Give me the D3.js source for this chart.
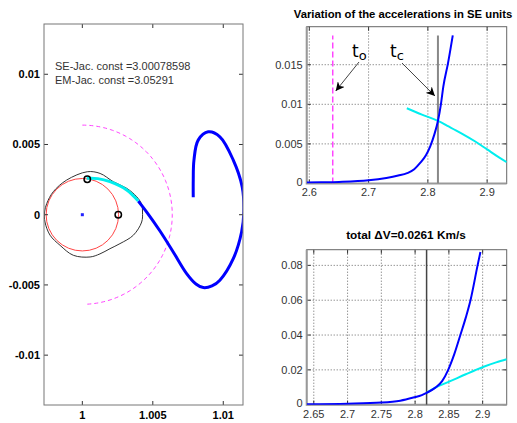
<!DOCTYPE html>
<html>
<head>
<meta charset="utf-8">
<script src="https://cdn.jsdelivr.net/npm/d3@7"></script>
<style>
  body { margin: 0; background: #fff; }
  svg { font-family: "Liberation Sans", Arial, sans-serif; }
  .grid line { stroke: #666; stroke-width: 1; stroke-dasharray: 1,2; }
  .tick-lbl { font-size: 11px; fill: #333; }
  .title { font-size: 11.8px; font-weight: bold; fill: #000; text-anchor: middle; }
</style>
</head>
<body>
<script>
// ---- left panel: trajectory in SE rotating frame ----
const earth = [1, 0];
const moonOrbitR = 0.00257;
const dashedArcR = 0.00638;
const markers = [[1.00035, 0.00252], [1.00255, 0]];
const zvcContour = [
  [1.00035, 0.00306], [1.00126, 0.00294], [1.00220, 0.00235], [1.00315, 0.00188],
  [1.00386, 0.00128], [1.00420, 0.00076], [1.00427, 0.00019], [1.00421, -0.00052],
  [1.00362, -0.00146], [1.00267, -0.00206], [1.00196, -0.00242], [1.00125, -0.00279],
  [1.00055, -0.00301], [0.99936, -0.00289], [0.99842, -0.00218], [0.99771, -0.00146],
  [0.99735, -0.00052], [0.99732, 0.00019], [0.99748, 0.00081], [0.99794, 0.00164],
  [0.99889, 0.00247]
];
const trajCyan = [
  [1.00031, 0.00259], [1.00110, 0.00257], [1.00196, 0.00235], [1.00315, 0.00176], [1.00397, 0.00097]
];
const trajBlue = [
  [1.00397, 0.00097], [1.00457, 0.00019], [1.00551, -0.00116], [1.00645, -0.00265],
  [1.00740, -0.00419], [1.00806, -0.00493], [1.00858, -0.00519], [1.00920, -0.00507],
  [1.00976, -0.00466], [1.01071, -0.00313], [1.01130, -0.00123], [1.01146, 0.00019],
  [1.01134, 0.00199], [1.01071, 0.00389], [1.00976, 0.00555], [1.00893, 0.00590],
  [1.00822, 0.00531], [1.00792, 0.00389], [1.00787, 0.00247], [1.00787, 0.00124]
];
const leftXTicks = [1, 1.005, 1.01];
const leftYTicks = [-0.01, -0.005, 0, 0.005, 0.01];
const jacobiLabels = ["SE-Jac. const =3.00078598", "EM-Jac. const =3.05291"];

// ---- top right: accelerations ----
const t0 = 2.6395;
const tc = 2.817;
const accBlue = [
  [2.5956, 0.00012], [2.62, 0.00015], [2.65, 0.0002], [2.7, 0.0004], [2.73, 0.0007],
  [2.75, 0.0010], [2.765, 0.0013], [2.777, 0.0018], [2.787, 0.0026], [2.797, 0.0036],
  [2.804, 0.0047], [2.811, 0.0062], [2.817, 0.0079], [2.822, 0.0100], [2.826, 0.0122],
  [2.834, 0.0152], [2.842, 0.0187]
];
const accCyan = [
  [2.7645, 0.0095], [2.79, 0.0087], [2.817, 0.0079], [2.835, 0.0072], [2.855, 0.0064],
  [2.88, 0.0053], [2.9, 0.0043], [2.92, 0.0033], [2.933, 0.0027]
];
const accXTicks = [2.6, 2.7, 2.8, 2.9];
const accYTicks = [0, 0.005, 0.01, 0.015];

// ---- bottom right: delta V ----
const dvBlue = [
  [2.6395, 0.0003], [2.7, 0.0006], [2.75, 0.0012], [2.778, 0.0023], [2.7975, 0.0041],
  [2.81, 0.0055], [2.817, 0.0068], [2.83, 0.0098], [2.84, 0.0135], [2.849, 0.020],
  [2.858, 0.029], [2.867, 0.040], [2.875, 0.050], [2.882, 0.060], [2.8925, 0.080],
  [2.8967, 0.0877]
];
const dvCyan = [
  [2.817, 0.0068], [2.83, 0.0098], [2.852, 0.0135], [2.875, 0.0175], [2.9015, 0.0218],
  [2.92, 0.0243], [2.9356, 0.0261]
];
const dvXTicks = [2.65, 2.7, 2.75, 2.8, 2.85, 2.9];
const dvYTicks = [0, 0.02, 0.04, 0.06, 0.08];

const W = 517, H = 423;
const svg = d3.select("body").append("svg").attr("width", W).attr("height", H);

const defs = svg.append("defs");
defs.append("marker")
  .attr("id", "arrow")
  .attr("viewBox", "0 -5 10 10")
  .attr("refX", 10)
  .attr("markerWidth", 9)
  .attr("markerHeight", 9)
  .attr("markerUnits", "userSpaceOnUse")
  .attr("orient", "auto")
  .append("path")
  .attr("d", "M0,-5L10,0L0,5L3,0Z")
  .attr("fill", "#000");

function clipFor(id, x, y) {
  defs.append("clipPath").attr("id", id)
    .append("rect")
    .attr("x", x.range()[0]).attr("y", y.range()[1])
    .attr("width", x.range()[1] - x.range()[0])
    .attr("height", y.range()[0] - y.range()[1]);
  return svg.append("g").attr("clip-path", `url(#${id})`);
}

const fmt = (d) => String(+d.toFixed(6));

// axis frame with inner ticks on all sides
function frame(x, y, xt, yt, opt) {
  const [x0, x1] = x.range();
  const [y0, y1] = y.range();
  const g = svg.append("g");
  if (opt.grid) {
    const gg = g.append("g").attr("class", "grid");
    gg.selectAll(".gx").data(xt).join("line")
      .attr("x1", (d) => x(d)).attr("x2", (d) => x(d)).attr("y1", y0).attr("y2", y1);
    gg.selectAll(".gy").data(yt.filter((d) => d !== 0)).join("line")
      .attr("x1", x0).attr("x2", x1).attr("y1", (d) => y(d)).attr("y2", (d) => y(d));
  }
  const tl = 4;
  g.selectAll(".tx").data(xt).join("path")
    .attr("d", (d) => `M${x(d)},${y0}v${-tl}M${x(d)},${y1}v${tl}`)
    .attr("stroke", "#333");
  g.selectAll(".ty").data(yt).join("path")
    .attr("d", (d) => `M${x0},${y(d)}h${tl}M${x1},${y(d)}h${-tl}`)
    .attr("stroke", "#333");
  g.append("rect")
    .attr("x", x0).attr("y", y1).attr("width", x1 - x0).attr("height", y0 - y1)
    .attr("fill", "none").attr("stroke", opt.boxColor || "#666");
  if (opt.thickLB) {
    g.append("path")
      .attr("d", `M${x0},${y1}V${y0}H${x1}`)
      .attr("fill", "none").attr("stroke", "#999").attr("stroke-width", 2);
  }
  g.selectAll(".lx").data(xt).join("text")
    .attr("class", "tick-lbl")
    .attr("x", (d) => x(d)).attr("y", y0 + opt.xLblDy)
    .attr("text-anchor", "middle")
    .attr("font-weight", opt.bold ? "bold" : null)
    .style("fill", opt.bold ? "#000" : null)
    .text(fmt);
  g.selectAll(".ly").data(yt).join("text")
    .attr("class", "tick-lbl")
    .attr("x", x0 - opt.yLblDx).attr("y", (d) => y(d) + (d === 0 && opt.grid ? 2 : 4))
    .attr("text-anchor", "end")
    .attr("font-weight", opt.bold ? "bold" : null)
    .style("fill", opt.bold ? "#000" : null)
    .text(fmt);
}

// ================= left panel =================
{
  const x = d3.scaleLinear().domain([0.99728, 1.01140]).range([44, 243]);
  const y = d3.scaleLinear().domain([-0.01355, 0.01358]).range([405, 24]);
  const line = d3.line().x((d) => x(d[0])).y((d) => y(d[1]));
  const c = clipFor("clipL", x, y);

  // moon orbit around earth
  c.append("circle")
    .attr("cx", x(earth[0])).attr("cy", y(earth[1]))
    .attr("r", x(earth[0] + moonOrbitR) - x(earth[0]))
    .attr("fill", "none").attr("stroke", "#f44").attr("stroke-width", 1);

  c.append("path")
    .attr("d", line.curve(d3.curveCatmullRomClosed)(zvcContour))
    .attr("fill", "none").attr("stroke", "#333").attr("stroke-width", 1);

  const arcAngles = d3.range(90, -88.5, -1.5);
  c.append("path")
    .attr("d", line.curve(d3.curveLinear)(arcAngles.map((a) => [
      earth[0] + dashedArcR * Math.cos(a * Math.PI / 180),
      earth[1] + dashedArcR * Math.sin(a * Math.PI / 180)
    ])))
    .attr("fill", "none").attr("stroke", "#f4f").attr("stroke-width", 1)
    .attr("stroke-dasharray", "4,3");

  c.append("path")
    .attr("d", line.curve(d3.curveCatmullRom)(trajBlue))
    .attr("fill", "none").attr("stroke", "#00f").attr("stroke-width", 3);
  c.append("path")
    .attr("d", line.curve(d3.curveCatmullRom)(trajCyan))
    .attr("fill", "none").attr("stroke", "#0ee").attr("stroke-width", 3);

  c.selectAll(".mk").data(markers).join("circle")
    .attr("cx", (d) => x(d[0])).attr("cy", (d) => y(d[1])).attr("r", 3.2)
    .attr("fill", "none").attr("stroke", "#000").attr("stroke-width", 1.5);

  c.append("rect")
    .attr("x", x(earth[0]) - 1.5).attr("y", y(earth[1]) - 1.5)
    .attr("width", 3).attr("height", 3).attr("fill", "#22f");

  frame(x, y, leftXTicks, leftYTicks, { xLblDy: 14, yLblDx: 4, bold: true, boxColor: "#777" });

  svg.selectAll(".jac").data(jacobiLabels).join("text")
    .attr("x", 55).attr("y", (d, i) => 70 + i * 14)
    .attr("font-size", 11).attr("fill", "#333")
    .text((d) => d);
}

// ================= top right =================
{
  const x = d3.scaleLinear().domain([2.5956, 2.933]).range([306.7, 506.7]);
  const y = d3.scaleLinear().domain([0, 0.0198]).range([183.5, 26.7]);
  const line = d3.line().x((d) => x(d[0])).y((d) => y(d[1])).curve(d3.curveMonotoneX);

  frame(x, y, accXTicks, accYTicks, { xLblDy: 12.5, yLblDx: 4, grid: true, thickLB: true });

  const c = clipFor("clipA", x, y);
  c.append("line")
    .attr("x1", x(t0)).attr("x2", x(t0)).attr("y1", y(0)).attr("y2", y(0.0187))
    .attr("stroke", "#f4f").attr("stroke-width", 1.5).attr("stroke-dasharray", "6,3");
  c.append("line")
    .attr("x1", x(tc)).attr("x2", x(tc)).attr("y1", y(0)).attr("y2", y(0.0187))
    .attr("stroke", "#888").attr("stroke-width", 2);
  c.append("path").attr("d", line(accCyan))
    .attr("fill", "none").attr("stroke", "#0ee").attr("stroke-width", 2);
  c.append("path").attr("d", line(accBlue))
    .attr("fill", "none").attr("stroke", "#00f").attr("stroke-width", 2);

  // annotations
  const ann = [
    { lbl: "t", sub: "o", tx: 352, ty: 57, ax1: 359, ay1: 62, ax2: x(t0) + 3, ay2: 91 },
    { lbl: "t", sub: "c", tx: 390, ty: 57, ax1: 402, ay1: 63, ax2: x(tc) - 3, ay2: 96 }
  ];
  const a = svg.append("g");
  ann.forEach((d) => {
    const t = a.append("text").attr("x", d.tx).attr("y", d.ty)
      .attr("font-family", "DejaVu Sans").attr("font-size", 17).attr("fill", "#000");
    t.append("tspan").text(d.lbl);
    t.append("tspan").attr("font-size", 13).attr("dy", 3).text(d.sub);
    a.append("line")
      .attr("x1", d.ax1).attr("y1", d.ay1).attr("x2", d.ax2).attr("y2", d.ay2)
      .attr("stroke", "#444").attr("stroke-width", 1).attr("marker-end", "url(#arrow)");
  });

  svg.append("text").attr("class", "title")
    .attr("x", 403).attr("y", 18)
    .style("font-size", "11.3px")
    .text("Variation of the accelerations in SE units");
}

// ================= bottom right =================
{
  const x = d3.scaleLinear().domain([2.6395, 2.9356]).range([306.7, 506.7]);
  const y = d3.scaleLinear().domain([0, 0.0890]).range([404.7, 249.7]);
  const line = d3.line().x((d) => x(d[0])).y((d) => y(d[1])).curve(d3.curveMonotoneX);

  frame(x, y, dvXTicks, dvYTicks, { xLblDy: 13, yLblDx: 4, grid: true, thickLB: true });

  const c = clipFor("clipV", x, y);
  c.append("line")
    .attr("x1", x(tc)).attr("x2", x(tc)).attr("y1", y.range()[0]).attr("y2", y.range()[1])
    .attr("stroke", "#444").attr("stroke-width", 1.5);
  c.append("path").attr("d", line(dvCyan))
    .attr("fill", "none").attr("stroke", "#0ee").attr("stroke-width", 2);
  c.append("path").attr("d", line(dvBlue))
    .attr("fill", "none").attr("stroke", "#00f").attr("stroke-width", 2);

  svg.append("text").attr("class", "title")
    .attr("x", 406).attr("y", 239)
    .text("total \u0394V=0.0261 Km/s");
}
</script>
</body>
</html>
